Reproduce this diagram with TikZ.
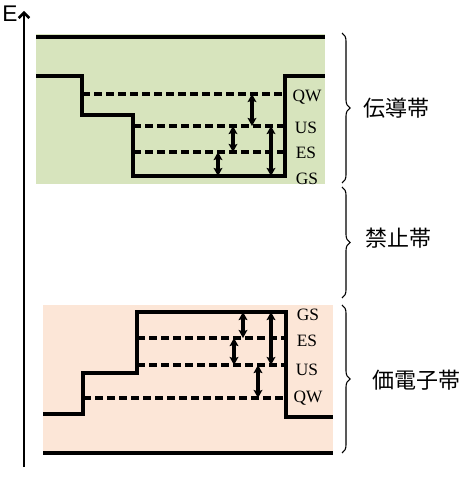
\documentclass[tikz,border=0pt]{standalone}
\usepackage{fontspec}
\setmainfont{Liberation Serif}
\newfontfamily\jpfont{Noto Sans CJK JP}
\newfontfamily\sansfont{Liberation Sans}
\usetikzlibrary{arrows.meta,decorations.pathreplacing}
\definecolor{cbgreen}{HTML}{D7E4BD}
\definecolor{vbpink}{HTML}{FCE6D7}
\begin{document}
\begin{tikzpicture}[x=0.75pt,y=-0.75pt,
  bandline/.style={line width=2.5pt},
  levelline/.style={line width=2.4pt,dash pattern=on 6pt off 3pt},
  gaparrow/.style={line width=2.3pt,{Stealth[length=6pt,width=6.5pt,inset=1pt]}-{Stealth[length=6pt,width=6.5pt,inset=1pt]}},
  lvl/.style={font=\fontsize{13}{15}\selectfont,inner sep=0pt},
  bandlabel/.style={font=\jpfont\fontsize{16.5}{18}\selectfont,inner sep=0pt},
  bandbrace/.style={decorate,decoration={brace,amplitude=6pt},line width=0.8pt}]
\useasboundingbox (0,0) rectangle (469,481);
% backgrounds
\fill[cbgreen] (36,34) rectangle (325,184);
\fill[vbpink] (43,305) rectangle (333,453);
% axis
\coordinate (axbot) at (24,467);
\coordinate (axtop) at (24,11);
\draw[line width=1.9pt,-{Straight Barb[length=4pt,width=8pt]}] (axbot) -- (axtop);
\node[inner sep=0pt] (E) at (10,14) {\sansfont\fontsize{17}{19}\selectfont E};
% conduction band
\draw[bandline] (36,37) -- (325,37);
\draw[bandline] (36,76) -| (82,115) -| (133,176) -| (285,76) -- (325,76);
\draw[levelline] (82,94) -- (285,94);
\draw[levelline] (133,126) -- (285,126);
\draw[levelline] (133,152) -- (285,152);
\coordinate (cqw1) at (252,94); \coordinate (cus1) at (252,126);
\coordinate (cus2) at (233,126); \coordinate (ces2) at (233,152);
\coordinate (ces3) at (218,152); \coordinate (cgs3) at (218,176);
\coordinate (cus4) at (271,126); \coordinate (cgs4) at (271,176);
\draw[gaparrow] (cqw1) -- (cus1);
\draw[gaparrow] (cus2) -- (ces2);
\draw[gaparrow] (ces3) -- (cgs3);
\draw[gaparrow] (cus4) -- (cgs4);
\node[lvl] (tQW) at (307,97) {QW};
\node[lvl] (tUS) at (306,128) {US};
\node[lvl] (tES) at (306,153) {ES};
\node[lvl] (tGS) at (307,179) {GS};
% valence band
\draw[bandline] (43,453) -- (333,453);
\draw[bandline] (43,414) -| (83,373) -| (137,312) -| (286,417) -- (333,417);
\draw[levelline] (137,338) -- (286,338);
\draw[levelline] (137,365) -- (286,365);
\draw[levelline] (83,398) -- (286,398);
\coordinate (vgs1) at (243,312); \coordinate (ves1) at (243,338);
\coordinate (ves2) at (234,338); \coordinate (vus2) at (234,365);
\coordinate (vgs3) at (271,312); \coordinate (vus3) at (271,365);
\coordinate (vus4) at (258,365); \coordinate (vqw4) at (258,398);
\draw[gaparrow] (vgs1) -- (ves1);
\draw[gaparrow] (ves2) -- (vus2);
\draw[gaparrow] (vgs3) -- (vus3);
\draw[gaparrow] (vus4) -- (vqw4);
\node[lvl] (bGS) at (308,315) {GS};
\node[lvl] (bES) at (307,341) {ES};
\node[lvl] (bUS) at (307,370) {US};
\node[lvl] (bQW) at (308,398) {QW};
% braces
\coordinate (b1t) at (342,33); \coordinate (b1b) at (342,183);
\coordinate (b2t) at (342,187); \coordinate (b2b) at (342,298);
\coordinate (b3t) at (342,305); \coordinate (b3b) at (342,453);
\draw[bandbrace] (b1t) -- (b1b);
\draw[bandbrace] (b2t) -- (b2b);
\draw[bandbrace] (b3t) -- (b3b);
\node[bandlabel] (cb) at (396,108) {伝導帯};
\node[bandlabel] (gap) at (398,238) {禁止帯};
\node[bandlabel] (vb) at (416,380) {価電子帯};
\end{tikzpicture}
\end{document}
